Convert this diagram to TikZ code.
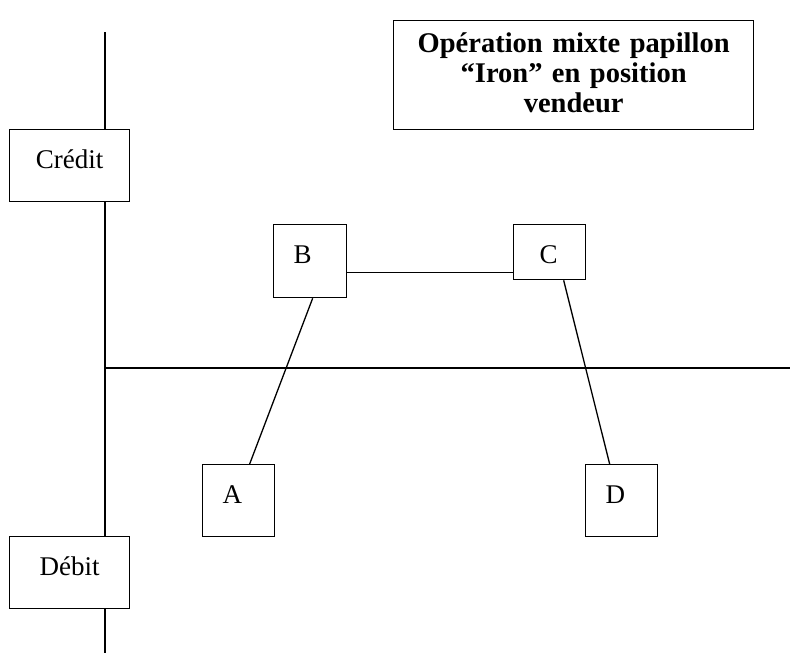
\documentclass[tikz,border=0pt]{standalone}
\usepackage{fontspec}
\setmainfont{Liberation Serif}
\begin{document}
\begin{tikzpicture}[x=1pt, y=-1pt, line width=1.3pt, line join=miter, font=\fontsize{27}{30}\selectfont,
		box/.style={draw, fill=white, inner sep=0pt, anchor=north west, text height=39pt, align=left},
		letterbox/.style={box, inner xsep=20pt, text width=32pt, text depth=33pt},
		sidebox/.style={box, inner xsep=24pt, text width=72pt, text depth=33pt, align=center}]
			\useasboundingbox (0,0) rectangle (790,653);
			% axes
			\coordinate (ytop) at (105,32);
			\coordinate (ybot) at (105,653);
			\coordinate (xleft) at (105,368);
			\coordinate (xright) at (790,368);
			\draw (ytop)--(ybot);
			\draw (xleft)--(xright);
			\node[sidebox] (credit) at (9,129) {Crédit};
			\node[sidebox] (debit) at (9,536) {Débit};
			\node[draw, fill=white, inner sep=0pt, anchor=north west, text width=360pt, align=center, text height=32pt, text depth=77pt, font=\bfseries\fontsize{28.5}{30}\selectfont] (titre) at (393,20) {Opération mixte papillon\\“Iron” en position\\vendeur};
			% papillon
			\node[letterbox, text width=33pt, text depth=34pt] (B) at (273,224) {B};
			\node[letterbox, inner xsep=26pt, text width=20pt, text depth=16pt] (C) at (513,224) {C};
			\node[letterbox] (A) at (202,464) {A};
			\node[letterbox] (D) at (585,464) {D};
			\draw ([yshift=-11.5pt]B.east)--([yshift=-11.5pt]B.east -| C.west);
			\draw ([xshift=2.5pt]B.south)--([xshift=11pt]A.north);
			\draw ([xshift=14pt]C.south)--([xshift=-12pt]D.north);
		\end{tikzpicture}
\end{document}
